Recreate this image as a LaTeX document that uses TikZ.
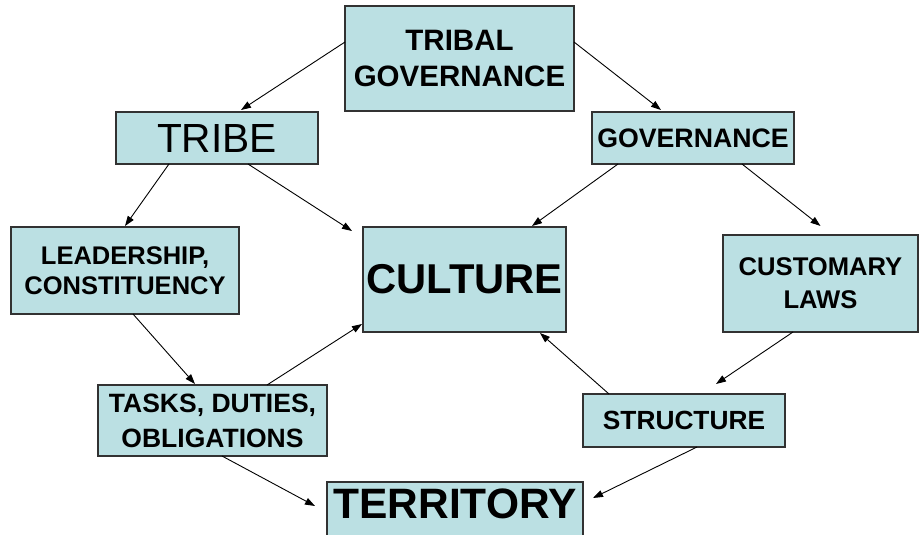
\documentclass[tikz,border=0pt]{standalone}
\usepackage{fontspec}
\setmainfont{Liberation Sans}
\usetikzlibrary{arrows.meta}
\definecolor{boxfill}{RGB}{187,224,227}
\definecolor{boxline}{RGB}{50,50,50}
\newcommand{\fs}[2]{\fontsize{#1}{#2}\selectfont}

\begin{document}
\begin{tikzpicture}[x=1pt, y=-1pt,
    box/.style={draw=boxline, line width=1.3pt, fill=boxfill, inner sep=0pt, outer sep=0pt, align=center},
    arr/.style={line width=0.9pt, -{Triangle[length=10pt,width=7pt]}}]
    \useasboundingbox (0,0) rectangle (919,535);
    \clip (0,0) rectangle (919,535);
    \node[box, minimum width=229pt, minimum height=105pt, font=\bfseries\fs{29.5}{36}] (tribalgov) at (459.5,58.5) {TRIBAL\\GOVERNANCE};
    \node[box, minimum width=202pt, minimum height=52pt, font=\fs{40.7}{48}] (tribe) at (217,138) {TRIBE};
    \node[box, minimum width=202pt, minimum height=52pt, font=\bfseries\fs{26.7}{32}] (gov) at (693,138) {GOVERNANCE};
    \node[box, minimum width=228pt, minimum height=87pt, font=\bfseries\fs{25.5}{30}] (lead) at (125,270.5) {LEADERSHIP,\\CONSTITUENCY};
    \node[box, minimum width=203pt, minimum height=105pt, font=\bfseries\fs{41.7}{50}] (culture) at (464.5,279.5) {CULTURE};
    \node[box, minimum width=195pt, minimum height=97pt, font=\bfseries\fs{25.6}{33}] (cust) at (820.5,283.5) {CUSTOMARY\\LAWS};
    \node[box, minimum width=229pt, minimum height=71pt, font=\bfseries\fs{26.5}{35}] (tasks) at (212.5,420.5) {TASKS, DUTIES,\\OBLIGATIONS};
    \node[box, minimum width=202pt, minimum height=53pt, font=\bfseries\fs{26.3}{32}] (struct) at (684,420.5) {STRUCTURE};
    \node[box, minimum width=256pt, inner ysep=7pt, text depth=40pt, anchor=north, font=\bfseries\fs{42.5}{50}] (terr) at (455,482) {TERRITORY};
    \path[arr] ([yshift=16.5pt]tribalgov.west) edge ([xshift=24pt,yshift=2pt]tribe.north);
    \path[arr] ([yshift=16.5pt]tribalgov.east) edge ([xshift=-32pt,yshift=2pt]gov.north);
    \path[arr] ([xshift=-48pt]tribe.south) edge ([yshift=1pt]lead.north);
    \path[arr] ([xshift=31pt]tribe.south) edge ([xshift=-11pt,yshift=-4pt]culture.north west);
    \path[arr] ([xshift=-75pt]gov.south) edge ([xshift=-34pt,yshift=1pt]culture.north east);
    \path[arr] ([xshift=49pt]gov.south) edge ([yshift=9pt]cust.north);
    \path[arr] ([xshift=8pt]lead.south) edge ([xshift=-17.5pt,yshift=1pt]tasks.north);
    \path[arr] ([xshift=54.5pt]tasks.north) edge ([xshift=-1pt,yshift=8pt]culture.south west);
    \path[arr] ([xshift=-27.5pt]cust.south) edge ([xshift=32pt,yshift=10pt]struct.north);
    \path[arr] ([xshift=-75pt]struct.north) edge ([xshift=-26pt,yshift=-1pt]culture.south east);
    \path[arr] ([xshift=9.5pt]tasks.south) edge ([xshift=-12pt,yshift=-24pt]terr.north west);
    \path[arr] ([xshift=13pt]struct.south) edge ([xshift=10pt,yshift=-16pt]terr.north east);
\end{tikzpicture}
\end{document}
